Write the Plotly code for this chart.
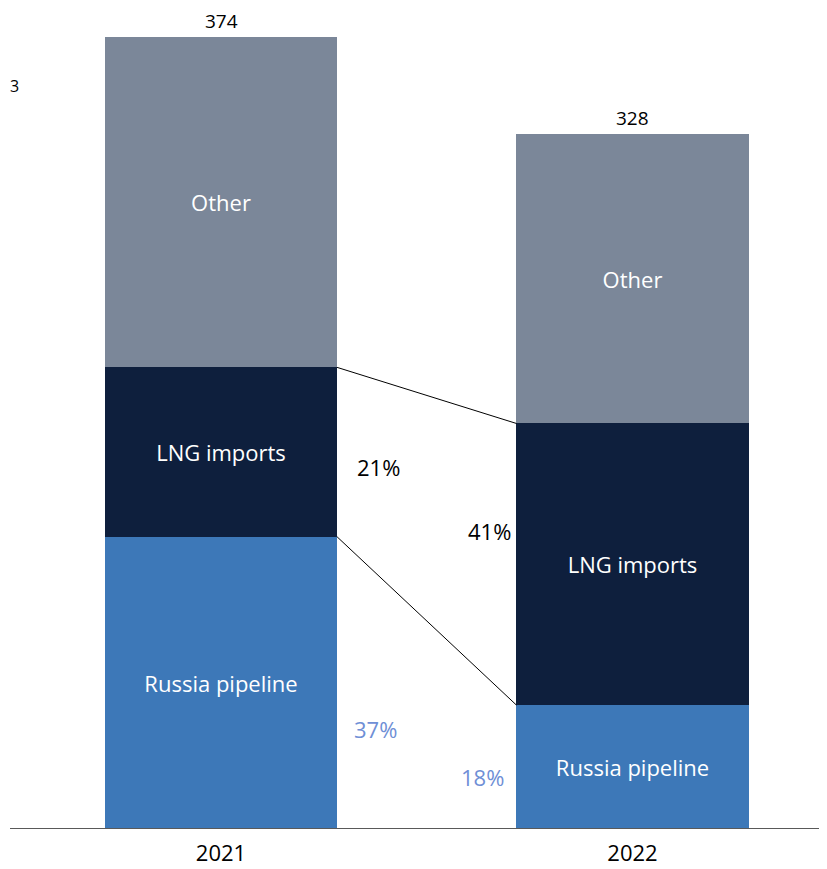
import plotly.graph_objects as go

years = ["2021", "2022"]
russia_pipeline = [138, 58.5]
lng_imports = [80, 133]
other = [156, 136.5]
totals = [374, 328]
lng_share = ["21%", "41%"]
russia_share = ["37%", "18%"]

FONT = "Open Sans"
BAR_W = 0.564
c_other = "#7B8799"
c_lng = "#0E1F3D"
c_rus = "#3D78B8"

fig = go.Figure()
for name, vals, col in [("Russia pipeline", russia_pipeline, c_rus),
                        ("LNG imports", lng_imports, c_lng),
                        ("Other", other, c_other)]:
    fig.add_trace(go.Bar(
        x=[0, 1], y=vals, name=name, width=BAR_W, marker_color=col,
        marker_line_width=0, text=[name, name], textposition="inside",
        insidetextanchor="middle", textangle=0,
        textfont=dict(color="white", size=22, family=FONT),
        hoverinfo="skip"))

# connector lines between segment tops
cum_lng = [russia_pipeline[i] + lng_imports[i] for i in range(2)]
fig.add_trace(go.Scatter(x=[0 + BAR_W / 2, 1 - BAR_W / 2], y=cum_lng, mode="lines",
                         line=dict(color="black", width=1), hoverinfo="skip"))
fig.add_trace(go.Scatter(x=[0 + BAR_W / 2, 1 - BAR_W / 2], y=russia_pipeline, mode="lines",
                         line=dict(color="black", width=1), hoverinfo="skip"))

ann = []
for i in range(2):
    ann.append(dict(x=i, y=totals[i], text=str(totals[i]), showarrow=False,
                    yanchor="middle", yshift=16,
                    font=dict(size=19, color="black", family=FONT)))
ann.append(dict(x=0.3815, y=170.9, text=lng_share[0], showarrow=False,
                font=dict(size=22, color="black", family=FONT)))
ann.append(dict(x=0.653, y=140.6, text=lng_share[1], showarrow=False,
                font=dict(size=22, color="black", family=FONT)))
ann.append(dict(x=0.3766, y=47.2, text=russia_share[0], showarrow=False,
                font=dict(size=22, color="#6F8FD6", family=FONT)))
ann.append(dict(x=0.6355, y=24.6, text=russia_share[1], showarrow=False,
                font=dict(size=22, color="#6F8FD6", family=FONT)))
ann.append(dict(xref="paper", yref="paper", x=-2 / 825, y=0.905, text="3", showarrow=False,
                xanchor="left", yanchor="middle",
                font=dict(size=16, color="black", family=FONT)))

fig.update_layout(
    barmode="stack", showlegend=False, width=827, height=869,
    margin=dict(l=2, r=0, t=0, b=48),
    plot_bgcolor="white", paper_bgcolor="white",
    annotations=ann,
    xaxis=dict(range=[-0.5128, 1.4921], tickmode="array", tickvals=[0, 1], ticktext=years,
               showgrid=False, zeroline=False, showline=False, ticks="",
               ticklabelstandoff=9,
               tickfont=dict(size=22, color="black", family=FONT)),
    yaxis=dict(range=[0, 387.7], visible=False, showgrid=False, zeroline=False),
    shapes=[dict(type="line", xref="paper", yref="y", x0=0, x1=1, y0=0, y1=0,
                 line=dict(color="#595959", width=2))],
)
fig.write_html("out.html")
